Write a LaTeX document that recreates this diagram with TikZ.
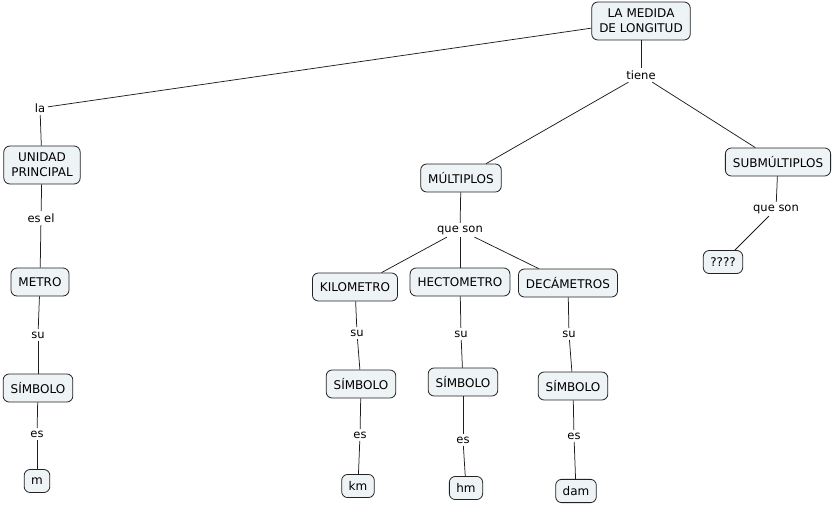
\documentclass[tikz,border=0pt]{standalone}
\usepackage{fontspec}
\setmainfont{DejaVu Sans}
\definecolor{conceptfill}{RGB}{238,243,246}
\definecolor{conceptline}{RGB}{35,35,35}
\definecolor{linkline}{RGB}{30,30,30}
\usepackage{tikz}
\usetikzlibrary{positioning}

\begin{document}
\begin{tikzpicture}[x=1pt,y=-1pt,
    concept/.style={draw=conceptline, line width=0.8pt, fill=conceptfill, rounded corners=6pt, align=center,
        inner xsep=7.5pt, inner ysep=7pt, minimum height=28pt, font=\fontsize{12}{15}\selectfont},
    small/.style={minimum height=23pt, inner xsep=7pt},
    linkword/.style={inner sep=2.5pt, font=\fontsize{11.5}{13}\selectfont},
    link/.style={draw=linkline, line width=0.75pt}]
    \useasboundingbox (0,0) rectangle (836,506);

    % top concept
    \node[concept] (medida) at (641,21) {LA MEDIDA\\DE LONGITUD};
    \node[linkword] (tiene) at (641,75) {tiene};
    \node[linkword] (la) at (40,108) {la};

    % left branch
    \node[concept] (unidad) at (42,165) {UNIDAD\\PRINCIPAL};
    \node[linkword] (esel) at (41,218) {es el};
    \node[concept] (metro) at (40,282) {METRO};
    \node[linkword] (su0) at (38,335) {su};
    \node[concept] (simb0) at (38,388) {SÍMBOLO};
    \node[linkword] (es0) at (37,434) {es};
    \node[concept,small] (m) at (37,481) {m};

    % multiples
    \node[concept] (mult) at (461,178) {MÚLTIPLOS};
    \node[linkword] (queson) at (460,230) {que son};
    \node[concept] (kilo) at (355,287) {KILOMETRO};
    \node[concept] (hecto) at (460,282) {HECTOMETRO};
    \node[concept] (deca) at (568,283) {DECÁMETROS};

    \node[linkword] (su1) at (357,333) {su};
    \node[concept] (simb1) at (361,384) {SÍMBOLO};
    \node[linkword] (es1) at (360,435) {es};
    \node[concept,small] (km) at (358,486) {km};

    \node[linkword] (su2) at (461,334) {su};
    \node[concept] (simb2) at (463,382) {SÍMBOLO};
    \node[linkword] (es2) at (463,440) {es};
    \node[concept,small] (hm) at (466,488) {hm};

    \node[linkword] (su3) at (569,334) {su};
    \node[concept] (simb3) at (573,386) {SÍMBOLO};
    \node[linkword] (es3) at (574,436) {es};
    \node[concept,small] (dam) at (576,491) {dam};

    % submultiples
    \node[concept] (submult) at (778,162) {SUBMÚLTIPLOS};
    \node[linkword] (queson2) at (776,209) {que son};
    \node[concept,small] (qq) at (723,262) {????};

    % connectors
    \draw[link] (medida) -- (tiene);
    \draw[link] (medida) -- (la);
    \draw[link] (tiene) -- (mult);
    \draw[link] (tiene) -- (submult);
    \draw[link] (la) -- (unidad);
    \draw[link] (unidad) -- (esel);
    \draw[link] (esel) -- (metro);
    \draw[link] (metro) -- (su0);
    \draw[link] (su0) -- (simb0);
    \draw[link] (simb0) -- (es0);
    \draw[link] (es0) -- (m);
    \draw[link] (mult) -- (queson);
    \draw[link] (queson) -- (kilo);
    \draw[link] (queson) -- (hecto);
    \draw[link] (queson) -- (deca);
    \draw[link] (kilo) -- (su1);
    \draw[link] (su1) -- (simb1);
    \draw[link] (simb1) -- (es1);
    \draw[link] (es1) -- (km);
    \draw[link] (hecto) -- (su2);
    \draw[link] (su2) -- (simb2);
    \draw[link] (simb2) -- (es2);
    \draw[link] (es2) -- (hm);
    \draw[link] (deca) -- (su3);
    \draw[link] (su3) -- (simb3);
    \draw[link] (simb3) -- (es3);
    \draw[link] (es3) -- (dam);
    \draw[link] (submult) -- (queson2);
    \draw[link] (queson2) -- (qq);
\end{tikzpicture}
\end{document}
